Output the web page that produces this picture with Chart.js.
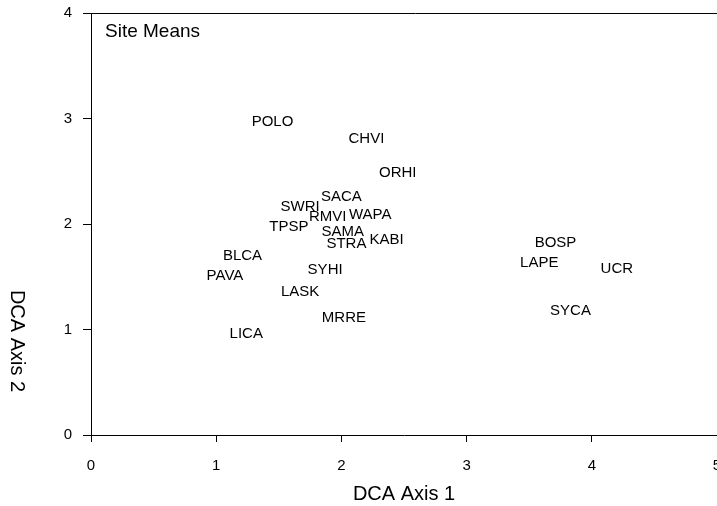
<!DOCTYPE html>
<html>
<head>
<meta charset="utf-8">
<script src="https://cdn.jsdelivr.net/npm/chart.js@4/dist/chart.umd.min.js"></script>
<style>
  html, body { margin: 0; padding: 0; overflow: hidden; background: #fff; }
  #wrap { width: 740px; height: 506px; }
</style>
</head>
<body>
<div id="wrap"><canvas id="c" width="740" height="506"></canvas></div>
<script>
// ---- data ----
const siteNames = ["POLO","CHVI","ORHI","SACA","SWRI","RMVI","WAPA","TPSP","SAMA","STRA","KABI",
                   "BLCA","PAVA","SYHI","LASK","MRRE","LICA","BOSP","LAPE","UCR","SYCA"];
const axis1Values = [1.45, 2.20, 2.45, 2.00, 1.67, 1.89, 2.23, 1.58, 2.01, 2.04, 2.36,
                     1.21, 1.07, 1.87, 1.67, 2.02, 1.24, 3.71, 3.58, 4.20, 3.83];
const axis2Values = [2.98, 2.82, 2.50, 2.27, 2.17, 2.08, 2.10, 1.98, 1.94, 1.82, 1.86,
                     1.71, 1.52, 1.58, 1.37, 1.12, 0.97, 1.83, 1.64, 1.59, 1.19];
const xTickValues = [0, 1, 2, 3, 4, 5];
const yTickValues = [0, 1, 2, 3, 4];
const panelTitle = "Site Means";
const xTitle = "DCA Axis 1";
const yTitle = "DCA Axis 2";

const FONT = "'Liberation Sans', Arial, Helvetica, sans-serif";

const points = siteNames.map((n, i) => ({ x: axis1Values[i], y: axis2Values[i], name: n }));

const textPlugin = {
  id: 'textPlugin',
  afterDatasetsDraw(chart) {
    const ctx = chart.ctx;
    const area = chart.chartArea;
    ctx.save();
    // top frame line
    ctx.strokeStyle = '#000';
    ctx.lineWidth = 1;
    ctx.beginPath();
    ctx.moveTo(area.left, Math.round(area.top) + 0.5);
    ctx.lineTo(chart.width, Math.round(area.top) + 0.5);
    ctx.stroke();

    // point labels
    ctx.fillStyle = '#000';
    ctx.font = "15px " + FONT;
    ctx.textAlign = 'center';
    ctx.textBaseline = 'alphabetic';
    const meta = chart.getDatasetMeta(0);
    meta.data.forEach((el, i) => {
      ctx.fillText(points[i].name, el.x, el.y + 15 * 0.358);
    });

    // panel title
    ctx.font = "19px " + FONT;
    ctx.textAlign = 'left';
    ctx.fillText(panelTitle, area.left + 14, area.top + 23.5);

    // x axis title
    ctx.font = "20px " + FONT;
    ctx.textAlign = 'center';
    ctx.fillText(xTitle, (area.left + 717) / 2, 500);

    // y axis title (rotated clockwise)
    ctx.translate(11, 341);
    ctx.rotate(Math.PI / 2);
    ctx.fillText(yTitle, 0, 0);
    ctx.restore();
  }
};

new Chart(document.getElementById('c'), {
  type: 'scatter',
  data: {
    datasets: [{
      data: points,
      pointRadius: 0,
      pointHoverRadius: 0,
      showLine: false
    }]
  },
  options: {
    responsive: false,
    animation: false,
    events: [],
    layout: { padding: { top: 13, right: 23, left: 0, bottom: 0 } },
    plugins: { legend: { display: false }, tooltip: { enabled: false } },
    scales: {
      x: {
        type: 'linear',
        min: 0, max: 5,
        afterBuildTicks: (s) => { s.ticks = xTickValues.map(v => ({ value: v })); },
        afterFit: (s) => { s.height = 71; s.paddingLeft = 0; s.paddingRight = 0; },
        grid: { display: true, drawOnChartArea: false, drawTicks: true, tickLength: 7, tickColor: '#000', tickWidth: 1 },
        border: { display: true, color: '#000', width: 1 },
        ticks: { color: '#000', font: { family: FONT, size: 15 }, padding: 15, maxRotation: 0 }
      },
      y: {
        type: 'linear',
        min: 0, max: 4,
        afterBuildTicks: (s) => { s.ticks = yTickValues.map(v => ({ value: v })); },
        afterFit: (s) => { s.width = 91; s.paddingTop = 0; s.paddingBottom = 0; },
        grid: { display: true, drawOnChartArea: false, drawTicks: true, tickLength: 8, tickColor: '#000', tickWidth: 1 },
        border: { display: true, color: '#000', width: 1 },
        ticks: { color: '#000', font: { family: FONT, size: 15 }, padding: 11 }
      }
    }
  },
  plugins: [textPlugin]
});
</script>
</body>
</html>
